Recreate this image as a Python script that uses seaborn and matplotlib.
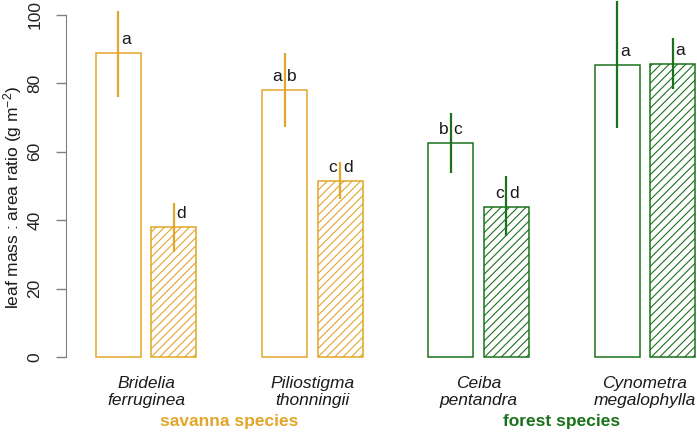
import matplotlib
matplotlib.use("Agg")
import matplotlib.pyplot as plt
import seaborn as sns
import pandas as pd
import numpy as np

# values
species = ["Bridelia\nferruginea", "Piliostigma\nthonningii",
           "Ceiba\npentandra", "Cynometra\nmegalophylla"]
group = ["savanna", "savanna", "forest", "forest"]
leaf_type = ["open", "hatched"]

lma_open = [88.8, 78.1, 62.7, 85.5]
lma_hatched = [37.9, 51.6, 44.0, 85.6]
err_lo_open = [75.9, 67.3, 53.9, 66.9]
err_hi_open = [101.3, 88.8, 71.4, 104.1]
err_lo_hatched = [30.8, 46.1, 35.4, 78.3]
err_hi_hatched = [45.1, 56.9, 53.0, 93.4]
letters_open = ["a", "a b", "b c", "a"]
letters_hatched = ["d", "c d", "c d", "a"]

group_colors = {"savanna": "#E1A62A", "forest": "#1B721B"}
group_names = ["savanna species", "forest species"]

plt.rcParams["font.family"] = ["Liberation Sans", "DejaVu Sans"]
plt.rcParams["mathtext.fontset"] = "custom"
plt.rcParams["mathtext.rm"] = "Liberation Sans"
plt.rcParams["mathtext.it"] = "Liberation Sans:italic"
plt.rcParams["font.size"] = 12.5
plt.rcParams["hatch.linewidth"] = 0.8

df = pd.DataFrame({
    "species": species * 2,
    "type": [leaf_type[0]] * 4 + [leaf_type[1]] * 4,
    "lma": lma_open + lma_hatched,
})

fig = plt.figure(figsize=(6.97, 4.32), dpi=100)
ax = fig.add_axes([66 / 697, 61.3 / 432, 631 / 697, 369.4 / 432])

sns.barplot(data=df, x="species", y="lma", hue="type", order=species,
            hue_order=leaf_type, width=0.667, gap=0.19, legend=False, ax=ax)

# restyle bars: white fill, coloured edge, hatch for second type
bars = sorted(ax.patches, key=lambda p: p.get_x())
vals = []
lo = []
hi = []
labs = []
for i in range(4):
    vals += [lma_open[i], lma_hatched[i]]
    lo += [err_lo_open[i], err_lo_hatched[i]]
    hi += [err_hi_open[i], err_hi_hatched[i]]
    labs += [letters_open[i], letters_hatched[i]]

for k, p in enumerate(bars):
    col = group_colors[group[k // 2]]
    p.set_facecolor("white")
    p.set_edgecolor(col)
    p.set_linewidth(1.1)
    if k % 2 == 1:
        p.set_hatch("////")
    xc = p.get_x() + p.get_width() / 2
    ax.vlines(xc, lo[k], hi[k], color=col, lw=1.6, clip_on=False, zorder=3)
    parts = labs[k].split()
    if len(parts) == 2:
        ax.annotate(parts[0], (xc, vals[k]), xytext=(-2, 6.4),
                    textcoords="offset points", ha="right", va="baseline",
                    color="#1a1a1a")
        ax.annotate(parts[1], (xc, vals[k]), xytext=(2, 6.4),
                    textcoords="offset points", ha="left", va="baseline",
                    color="#1a1a1a")
    else:
        ax.annotate(parts[0], (xc, vals[k]), xytext=(2, 6.4),
                    textcoords="offset points", ha="left", va="baseline",
                    color="#1a1a1a")

ax.set_xlim(-0.481, 3.313)
ax.set_ylim(-4, 104)

# species names under each pair, group names below
ax.set_xticks([])
ax.set_xlabel("")
for i, name in enumerate(species):
    ax.annotate(name, (i, 0), xytext=(0, -25), textcoords="offset points",
                ha="center", va="center", style="italic", color="#1a1a1a",
                annotation_clip=False)
for j, gname in enumerate(group_names):
    col = group_colors[gname.split()[0]]
    ax.annotate(gname, (0.5 + 2 * j, 0), xytext=(0, -46.6),
                textcoords="offset points", ha="center", va="center",
                fontweight="bold", color=col, annotation_clip=False)

# R-like y axis
for s in ["top", "right", "bottom"]:
    ax.spines[s].set_visible(False)
ax.spines["left"].set_bounds(0, 100)
ax.spines["left"].set_color("#808080")
ax.set_yticks([0, 20, 40, 60, 80, 100])
ax.tick_params(axis="y", length=7, width=1, color="#808080", pad=10,
               labelcolor="#222222")
for t in ax.get_yticklabels():
    t.set_rotation(90)
    t.set_va("center")
ax.set_ylabel("")
fig.text(13 / 697, 1 - 197 / 432, "leaf mass : area ratio (g m$^{-2}$)",
         rotation=90, ha="center", va="center", color="#1a1a1a")

fig.savefig("out.png", dpi=100)
